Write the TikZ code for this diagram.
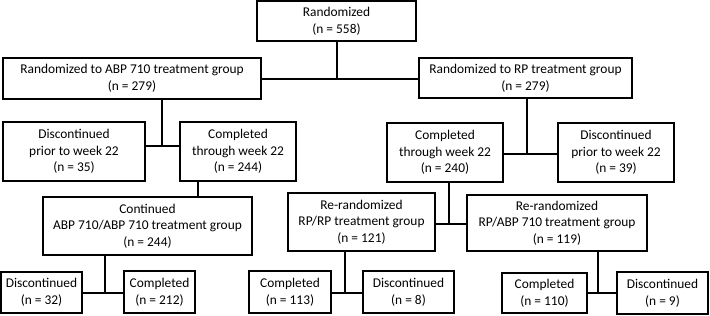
\documentclass[tikz,border=0pt]{standalone}
\usepackage{fontspec}
\setmainfont{Carlito}
\begin{document}
\begin{tikzpicture}[x=1pt,y=-1pt,
  box/.style={draw=black,line width=1.1pt,rectangle,inner sep=0pt,align=center,
    font=\fontsize{13.4}{16.6}\selectfont,text=black},
  conn/.style={draw=black,line width=1.7pt}]
\useasboundingbox (0,0) rectangle (710,316);
\node[box,minimum width=159pt,minimum height=40pt] (R0) at (336.5,21) {Randomized\\(n = 558)};
\node[box,minimum width=258pt,minimum height=41pt] (A1) at (132,78.5) {Randomized to ABP 710 treatment group\\(n = 279)};
\node[box,minimum width=213pt,minimum height=40pt] (B1) at (525.5,78) {Randomized to RP treatment group\\(n = 279)};
\node[box,minimum width=142pt,minimum height=59pt] (A2d) at (74,151.5) {Discontinued\\prior to week 22\\(n = 35)};
\node[box,minimum width=116pt,minimum height=59pt] (A2c) at (238,151.5) {Completed\\through week 22\\(n = 244)};
\node[box,minimum width=116pt,minimum height=59pt] (B2c) at (445,152.5) {Completed\\through week 22\\(n = 240)};
\node[box,minimum width=116pt,minimum height=59pt] (B2d) at (616,152.5) {Discontinued\\prior to week 22\\(n = 39)};
\node[box,minimum width=209pt,minimum height=58pt] (A3) at (147.5,226) {Continued\\ABP 710/ABP 710 treatment group\\(n = 244)};
\node[box,minimum width=147pt,minimum height=58pt] (B3a) at (361.5,222) {Re-randomized\\RP/RP treatment group\\(n = 121)};
\node[box,minimum width=180pt,minimum height=56pt] (B3b) at (557,223) {Re-randomized\\RP/ABP 710 treatment group\\(n = 119)};
\node[box,minimum width=81pt,minimum height=41pt] (A4d) at (41.5,292.5) {Discontinued\\(n = 32)};
\node[box,minimum width=71pt,minimum height=42pt] (A4c) at (159.5,292) {Completed\\(n = 212)};
\node[box,minimum width=82pt,minimum height=42pt] (B4a) at (290,292) {Completed\\(n = 113)};
\node[box,minimum width=91pt,minimum height=42pt] (B4b) at (408.5,292) {Discontinued\\(n = 8)};
\node[box,minimum width=85pt,minimum height=40pt] (B5a) at (544.5,293) {Completed\\(n = 110)};
\node[box,minimum width=91pt,minimum height=42pt] (B5b) at (662.5,293) {Discontinued\\(n = 9)};
\coordinate (j1) at (337,79);
\coordinate (j2) at (162,146);
\coordinate (j3) at (198,189);
\coordinate (j4) at (105,293);
\coordinate (j5) at (527,154);
\coordinate (j6) at (449,224);
\coordinate (j7) at (345,293);
\coordinate (j8) at (598,293);
\draw[conn] (R0.south -| j1) -- (j1);
\draw[conn] (A1.east |- j1) -- (B1.west |- j1);
\draw[conn] (A1.south -| j2) -- (j2);
\draw[conn] (A2d.east |- j2) -- (A2c.west |- j2);
\draw[conn] (A2c.south -| j3) -- (A3.north -| j3);
\draw[conn] (A3.south -| j4) -- (j4);
\draw[conn] (A4d.east |- j4) -- (A4c.west |- j4);
\draw[conn] (B1.south -| j5) -- (j5);
\draw[conn] (B2c.east |- j5) -- (B2d.west |- j5);
\draw[conn] (B2c.south -| j6) -- (j6);
\draw[conn] (B3a.east |- j6) -- (B3b.west |- j6);
\draw[conn] (B3a.south -| j7) -- (j7);
\draw[conn] (B4a.east |- j7) -- (B4b.west |- j7);
\draw[conn] (B3b.south -| j8) -- (j8);
\draw[conn] (B5a.east |- j8) -- (B5b.west |- j8);
\end{tikzpicture}
\end{document}
